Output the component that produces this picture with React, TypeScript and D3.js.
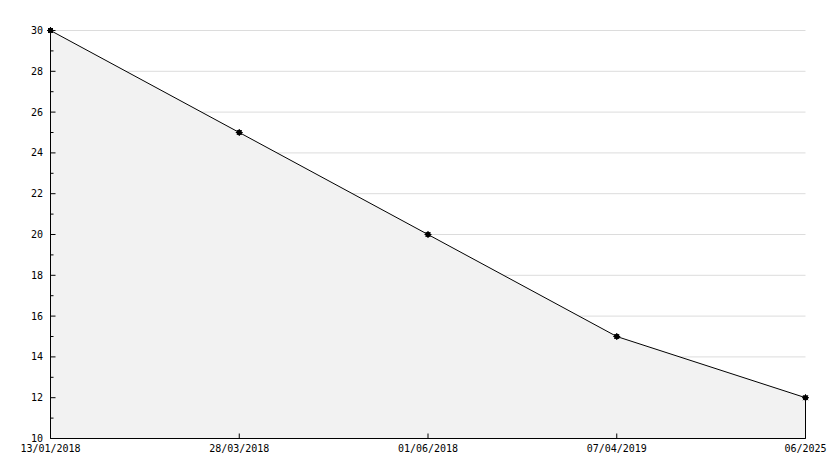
import React from "react";
import * as d3 from "d3";

const categories = ["13/01/2018", "28/03/2018", "01/06/2018", "07/04/2019", "06/2025"];
const values = [30, 25, 20, 15, 12];
const yTicks = [10, 12, 14, 16, 18, 20, 22, 24, 26, 28, 30];
const yMinorTicks = [11, 13, 15, 17, 19, 21, 23, 25, 27, 29];

export default function App() {
  const W = 834, H = 468;
  const left = 50.5, right = 805.5, top = 30.5, bottom = 438.5;
  const x = d3.scalePoint<string>().domain(categories).range([left, right]);
  const y = d3.scaleLinear().domain([10, 30]).range([bottom, top]);
  const pts: [number, number][] = categories.map((c, i) => [x(c)!, y(values[i])]);
  const line = d3.line<[number, number]>().x(d => d[0]).y(d => d[1]);
  const area = d3.area<[number, number]>().x(d => d[0]).y0(bottom).y1(d => d[1]);
  const font = "'DejaVu Sans Mono', monospace";
  const star = d3.symbol().type(d3.symbolCircle).size(22)();
  return (
    <svg width={W} height={H} style={{ position: "absolute", left: 0, top: 0, background: "#fff" }}>
      <rect x={0} y={0} width={W} height={H} fill="#fff" />
      {yTicks.filter(t => t !== 10).map(t => (
        <line key={"g" + t} x1={left} x2={right} y1={y(t)} y2={y(t)} stroke="#dcdcdc" strokeWidth={1} />
      ))}
      <path d={area(pts) || ""} fill="#f2f2f2" stroke="none" />
      <line x1={right} x2={right} y1={y(values[values.length - 1])} y2={bottom} stroke="#000" />
      <path d={line(pts) || ""} fill="none" stroke="#000" strokeWidth={1} />
      {/* y axis */}
      <line x1={left} x2={left} y1={top} y2={bottom} stroke="#000" />
      {yTicks.map(t => (
        <g key={"y" + t}>
          <line x1={left} x2={left + 5} y1={y(t)} y2={y(t)} stroke="#000" />
          <text x={43} y={y(t)} dy="0.35em" textAnchor="end" fontFamily={font} fontSize={10} fill="#000">{t}</text>
        </g>
      ))}
      {yMinorTicks.map(t => (
        <line key={"m" + t} x1={left} x2={left + 3} y1={y(t)} y2={y(t)} stroke="#000" />
      ))}
      {/* x axis */}
      <line x1={left} x2={right} y1={bottom} y2={bottom} stroke="#000" />
      {categories.map(c => (
        <g key={c}>
          <line x1={x(c)} x2={x(c)} y1={bottom} y2={bottom - 5} stroke="#000" />
          <text x={x(c)} y={452} textAnchor="middle" fontFamily={font} fontSize={10} fill="#000">{c}</text>
        </g>
      ))}
      {pts.map((p, i) => (
        <g key={"p" + i} transform={`translate(${p[0]},${p[1]})`}>
          <path d={star || ""} fill="#000" />
          <path d="M-3.5,0H3.5M0,-3.5V3.5M-2.5,-2.5L2.5,2.5M-2.5,2.5L2.5,-2.5" stroke="#000" strokeWidth={1} />
        </g>
      ))}
    </svg>
  );
}
